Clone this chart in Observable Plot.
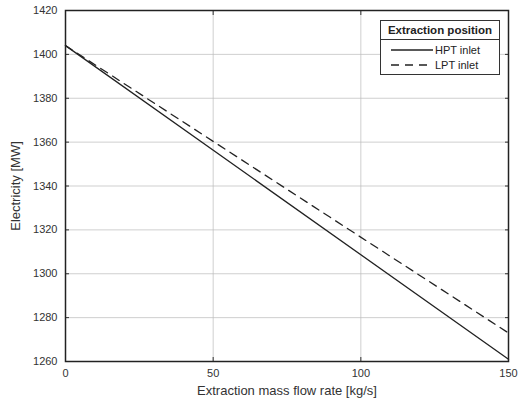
<!DOCTYPE html>
<html>
<head>
<meta charset="utf-8">
<script src="https://cdn.jsdelivr.net/npm/d3@7"></script>
<script src="https://cdn.jsdelivr.net/npm/@observablehq/plot@0.6"></script>
<style>
  html, body { margin: 0; padding: 0; background: #fff; }
  #wrap { position: relative; width: 518px; height: 406px; font-family: "Liberation Sans", Arial, sans-serif; }
  #legend { position: absolute; left: 380px; top: 20px; width: 118px; border: 1.2px solid #333; background: #fff; font-size: 11px; color: #222; }
  #legend .title { font-weight: bold; font-size: 11.5px; text-align: center; padding: 3px 0 3px 0; border-bottom: 1.2px solid #333; }
  #legend .row { display: flex; align-items: center; height: 15px; padding-left: 10px; }
  #legend .row svg { margin-right: 2px; }
</style>
</head>
<body>
<div id="wrap"></div>
<script>
const flowRate = [0, 150];
const hptInlet = [1404, 1261];
const lptInlet = [1404, 1273];
const xTicks = [0, 50, 100, 150];
const yTicks = [1260, 1280, 1300, 1320, 1340, 1360, 1380, 1400, 1420];
const seriesNames = ["HPT inlet", "LPT inlet"];

const data = [];
flowRate.forEach((x, i) => {
  data.push({x, y: hptInlet[i], s: seriesNames[0]});
  data.push({x, y: lptInlet[i], s: seriesNames[1]});
});

const chart = Plot.plot({
  width: 518,
  height: 406,
  marginLeft: 65,
  marginRight: 10,
  marginTop: 10,
  marginBottom: 45,
  style: {fontFamily: "'Liberation Sans', Arial, sans-serif", fontSize: "11px", color: "#333"},
  x: {domain: [0, 150]},
  y: {domain: [1260, 1420]},
  marks: [
    Plot.gridX(xTicks, {stroke: "#bbb", strokeOpacity: 0.7}),
    Plot.gridY(yTicks, {stroke: "#bbb", strokeOpacity: 0.7}),
    Plot.axisX(xTicks, {anchor: "bottom", tickSize: -4, tickPadding: 12, tickFormat: d3.format("d"), label: "Extraction mass flow rate [kg/s]", labelAnchor: "center", labelArrow: "none", labelOffset: 33, fontSize: 11}),
    Plot.axisX(xTicks, {anchor: "top", tickSize: -4, tickFormat: () => "", label: null}),
    Plot.axisY(yTicks, {anchor: "left", tickSize: -4, tickPadding: 12, tickFormat: d3.format("d"), label: "Electricity [MW]", labelAnchor: "center", labelArrow: "none", labelOffset: 55, fontSize: 11}),
    Plot.axisY(yTicks, {anchor: "right", tickSize: -4, tickFormat: () => "", label: null}),
    Plot.line(data.filter(d => d.s === seriesNames[1]), {x: "x", y: "y", stroke: "#222", strokeWidth: 1.3, strokeDasharray: "8,6"}),
    Plot.line(data.filter(d => d.s === seriesNames[0]), {x: "x", y: "y", stroke: "#222", strokeWidth: 1.3}),
    Plot.frame({stroke: "#222", strokeWidth: 1.5})
  ]
});

chart.querySelectorAll("g[aria-label='x-axis label'] text, g[aria-label='y-axis label'] text").forEach(t => t.setAttribute("font-size", "13"));

const wrap = document.getElementById("wrap");
wrap.appendChild(chart);

const legend = document.createElement("div");
legend.id = "legend";
legend.innerHTML = `<div class="title">Extraction position</div>
<div class="row" style="margin-top:2px"><svg width="42" height="6"><line x1="0" y1="3" x2="42" y2="3" stroke="#222" stroke-width="1.3"/></svg>${seriesNames[0]}</div>
<div class="row" style="margin-bottom:2px"><svg width="42" height="6"><line x1="0" y1="3" x2="42" y2="3" stroke="#222" stroke-width="1.3" stroke-dasharray="8,6"/></svg>${seriesNames[1]}</div>`;
wrap.appendChild(legend);
</script>
</body>
</html>
